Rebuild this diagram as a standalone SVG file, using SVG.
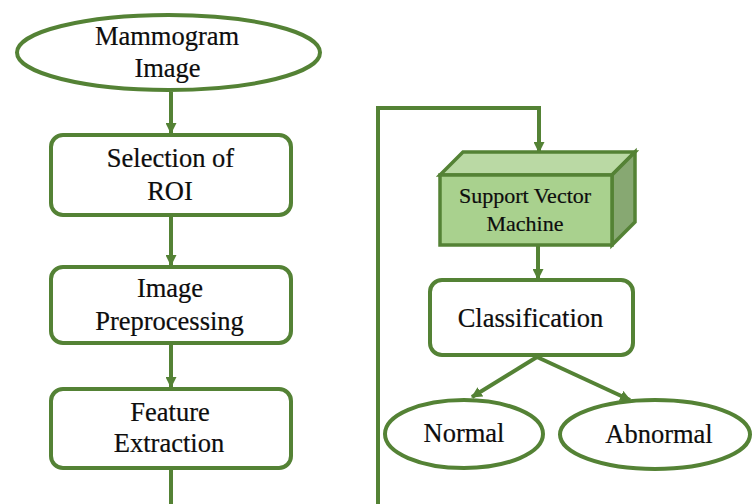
<svg xmlns="http://www.w3.org/2000/svg" width="752" height="504" viewBox="0 0 752 504">
  <style>
    .shape { fill: #ffffff; stroke: #548235; stroke-width: 4; }
    .cube { stroke: #548235; stroke-width: 3.5; stroke-linejoin: miter; }
    .edge { fill: none; stroke: #548235; stroke-width: 4; }
    text { font-family: "Liberation Serif", "Times New Roman", serif; font-size: 26.5px; fill: #0d0d0d; stroke: #0d0d0d; stroke-width: 0.2; text-anchor: middle; }
    text.small { font-size: 22px; }
  </style>
  <defs>
    <marker id="arrow" viewBox="0 0 10 10" refX="9" refY="5" markerWidth="11" markerHeight="11" markerUnits="userSpaceOnUse" orient="auto">
      <path d="M0,0 L10,5 L0,10 z" fill="#548235"/>
    </marker>
  </defs>

  <!-- connectors -->
  <g id="connectors">
    <line class="edge" x1="171" y1="92" x2="171" y2="133" marker-end="url(#arrow)"/>
    <line class="edge" x1="171" y1="217" x2="171" y2="265" marker-end="url(#arrow)"/>
    <line class="edge" x1="171" y1="345" x2="171" y2="387" marker-end="url(#arrow)"/>
    <line class="edge" x1="171" y1="470" x2="171" y2="504"/>
    <polyline class="edge" points="378,504 378,108 539,108 539,152" marker-end="url(#arrow)"/>
    <line class="edge" x1="538" y1="245" x2="538" y2="279" marker-end="url(#arrow)"/>
    <line class="edge" x1="537" y1="357" x2="472" y2="397" marker-end="url(#arrow)"/>
    <line class="edge" x1="537" y1="357" x2="630" y2="400" marker-end="url(#arrow)"/>
  </g>

  <g id="mammogram">
    <ellipse class="shape" cx="168.5" cy="52.5" rx="151.5" ry="37.5"/>
    <text x="167" y="45">Mammogram</text>
    <text x="167.5" y="77">Image</text>
  </g>

  <g id="roi">
    <rect class="shape" x="51" y="135" width="240" height="80" rx="12"/>
    <text x="170.5" y="167">Selection of</text>
    <text x="170" y="200">ROI</text>
  </g>

  <g id="preprocessing">
    <rect class="shape" x="51" y="267" width="240" height="76" rx="12"/>
    <text x="170" y="297">Image</text>
    <text x="169.5" y="330">Preprocessing</text>
  </g>

  <g id="features">
    <rect class="shape" x="51" y="389" width="240" height="79" rx="12"/>
    <text x="170" y="421">Feature</text>
    <text x="169" y="452">Extraction</text>
  </g>

  <g id="svm">
    <polygon class="cube" fill="#bad9a4" points="440,175 463,152 635,152 612,175"/>
    <polygon class="cube" fill="#87a872" points="612,175 635,152 635,222 612,245"/>
    <rect class="cube" fill="#a9d18e" x="440" y="175" width="172" height="70"/>
    <text class="small" x="525" y="203">Support Vector</text>
    <text class="small" x="525" y="231">Machine</text>
  </g>

  <g id="classification">
    <rect class="shape" x="430" y="280" width="203" height="75" rx="12"/>
    <text x="530.5" y="327">Classification</text>
  </g>

  <g id="normal">
    <ellipse class="shape" cx="464" cy="434" rx="79" ry="34"/>
    <text x="464" y="442">Normal</text>
  </g>

  <g id="abnormal">
    <ellipse class="shape" cx="655" cy="434.5" rx="95" ry="34.5"/>
    <text x="659" y="443">Abnormal</text>
  </g>
</svg>
